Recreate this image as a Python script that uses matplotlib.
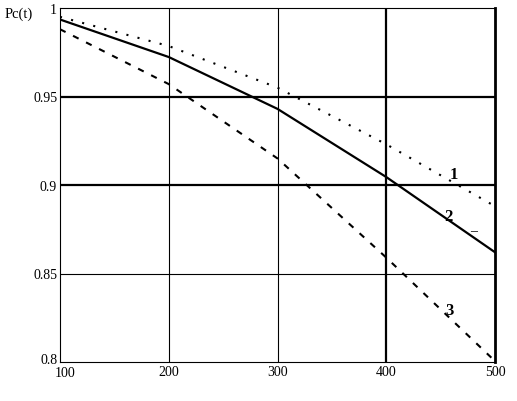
import matplotlib
matplotlib.use("Agg")
import matplotlib.pyplot as plt
from matplotlib.transforms import ScaledTranslation

# データ
t = [100, 200, 300, 400, 500]
pc1 = [0.995, 0.9785, 0.955, 0.923, 0.888]   # 点線
pc2 = [0.9935, 0.9723, 0.943, 0.9045, 0.862]  # 実線
pc3 = [0.988, 0.957, 0.915, 0.859, 0.8005]   # 破線
x_ticks = [100, 200, 300, 400, 500]
y_ticks = [0.8, 0.85, 0.9, 0.95, 1.0]
y_tick_labels = ["0.8", "0.85", "0.9", "0.95", "1"]
curve_labels = ["1", "2", "3"]

plt.rcParams['font.family'] = ['Liberation Serif', 'DejaVu Serif']

fig = plt.figure(figsize=(5.17, 4.02), dpi=100)
ax = fig.add_axes([60 / 517, 1 - 363 / 402, 435 / 517, 354 / 402])

# グリッド(太さは元図に合わせる)
for x in x_ticks[1:-1]:
    ax.axvline(x, color="black", lw=1.6 if x == 400 else 0.8, zorder=1)
for y in y_ticks[1:-1]:
    ax.axhline(y, color="black", lw=0.8 if y == 0.85 else 1.6, zorder=1)

ax.plot(t, pc1, color="black", lw=1.5, linestyle=(0, (1, 4.5)))
ax.plot(t, pc2, color="black", lw=1.6)
ax.plot(t, pc3, color="black", lw=1.5, linestyle=(0, (3, 4)))

ax.set_xlim(100, 500)
ax.set_ylim(0.8, 1.0)
ax.set_xticks(x_ticks)
ax.set_yticks(y_ticks)
ax.set_yticklabels(y_tick_labels)
ax.tick_params(length=0, labelsize=10, pad=2)

# 左下の0.8と100が重ならないように少しずらす
lab08 = ax.get_yticklabels()[0]
lab08.set_transform(lab08.get_transform() + ScaledTranslation(0, 3 / 72, fig.dpi_scale_trans))
lab100 = ax.get_xticklabels()[0]
lab100.set_transform(lab100.get_transform() + ScaledTranslation(4 / 72, -1 / 72, fig.dpi_scale_trans))

for s in ["left", "bottom", "top"]:
    ax.spines[s].set_linewidth(0.8)
ax.spines["right"].set_linewidth(2)

# 曲線の番号
ax.text(462, 0.904, curve_labels[0], fontsize=12, fontweight="bold", ha="center")
ax.text(457, 0.880, curve_labels[1], fontsize=12, fontweight="bold", ha="center")
ax.text(480, 0.8725, "\u2013", fontsize=10, ha="center")
ax.text(458, 0.827, curve_labels[2], fontsize=12, fontweight="bold", ha="center")

fig.text(5 / 517, 1 - 18 / 402, "Pc(t)", fontsize=10.5)

fig.savefig("out.png", dpi=100)
